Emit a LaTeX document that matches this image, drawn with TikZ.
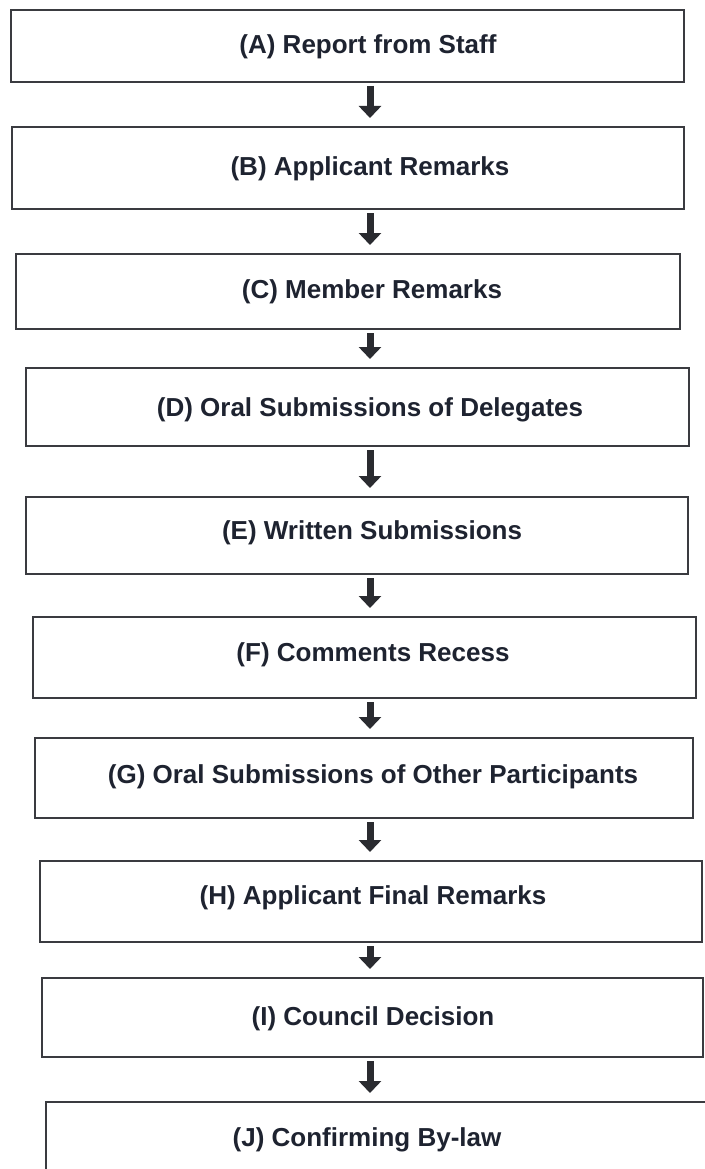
\documentclass[tikz,border=0pt]{standalone}
\usepackage{fontspec}
\setmainfont{Liberation Sans}
\usetikzlibrary{arrows.meta,fit}
\definecolor{boxline}{HTML}{3A3B40}
\definecolor{txt}{HTML}{1E2330}
\definecolor{arr}{HTML}{2A2B30}
\begin{document}
\begin{tikzpicture}[x=1pt,y=-1pt,
  box/.style={draw=boxline,line width=2pt,inner sep=0pt,rectangle},
  lbl/.style={text=txt,font=\fontsize{26}{30}\selectfont\bfseries,inner sep=0pt,anchor=center},
  blk/.style={draw=arr,line width=7pt,-{Triangle[width=22pt,length=12pt]}}]
\useasboundingbox[fill=white] (0,0) rectangle (704,1169);
\node[box,fit={(11,10) (684,82)}] (A) {};
\node[box,fit={(12,127) (684,209)}] (B) {};
\node[box,fit={(16,254) (680,329)}] (C) {};
\node[box,fit={(26,368) (689,446)}] (D) {};
\node[box,fit={(26,497) (688,574)}] (E) {};
\node[box,fit={(33,617) (696,698)}] (F) {};
\node[box,fit={(35,738) (693,818)}] (G) {};
\node[box,fit={(40,861) (702,942)}] (H) {};
\node[box,fit={(42,978) (703,1057)}] (I) {};
\node[box,fit={(46,1102) (712,1185)}] (J) {};
\node[lbl] (At) at (368,47) {(A) Report from Staff};
\node[lbl] (Bt) at (370,169) {(B) Applicant Remarks};
\node[lbl] (Ct) at (372,292) {(C) Member Remarks};
\node[lbl] (Dt) at (370,410) {(D) Oral Submissions of Delegates};
\node[lbl] (Et) at (372,533) {(E) Written Submissions};
\node[lbl] (Ft) at (373,655) {(F) Comments Recess};
\node[lbl] (Gt) at (373,777) {(G) Oral Submissions of Other Participants};
\node[lbl] (Ht) at (373,898) {(H) Applicant Final Remarks};
\node[lbl] (It) at (373,1019) {(I) Council Decision};
\node[lbl] (Jt) at (367,1140) {(J) Confirming By-law};
\coordinate (ax) at (370,0);
\foreach \a/\b in {A/B,B/C,C/D,D/E,E/F,F/G,G/H,H/I,I/J}{
  \draw[blk] ([yshift=-3pt]\a.south -| ax) -- ([yshift=8pt]\b.north -| ax);
}
\end{tikzpicture}
\end{document}
